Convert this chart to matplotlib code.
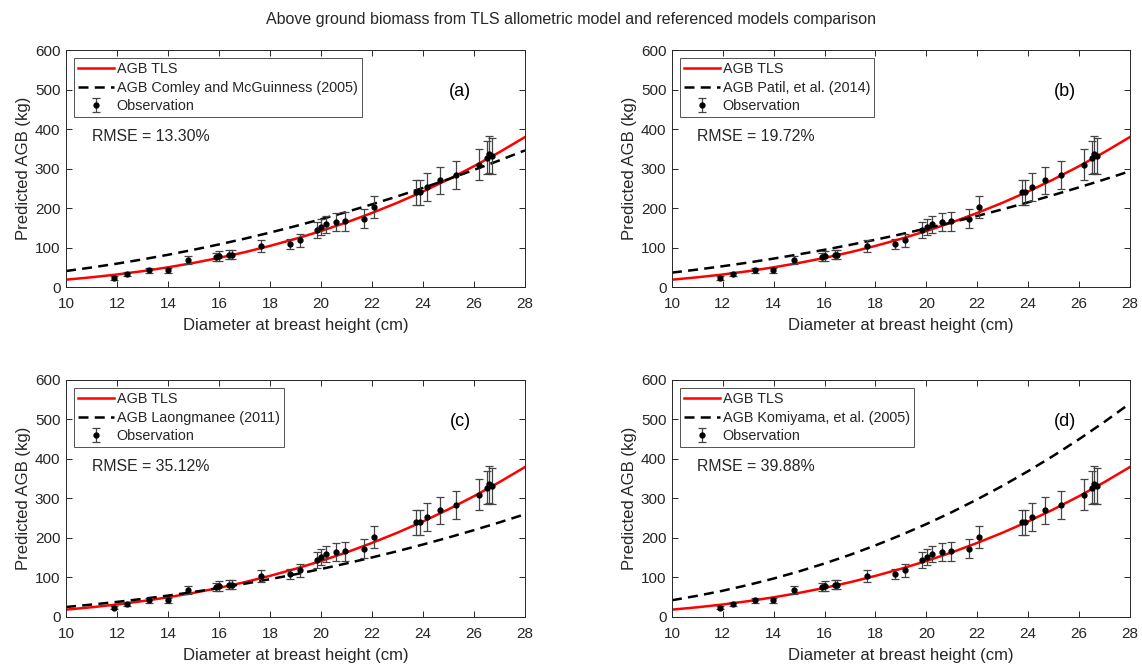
import matplotlib.pyplot as plt

plt.rcParams['font.family'] = ['Liberation Sans', 'DejaVu Sans']

# diameter grid for the model curves (cm)
d_curve = [10, 11, 12, 13, 14, 15, 16, 17, 18, 19, 20, 21, 22, 23, 24, 25, 26, 27, 28]

# TLS allometric model (same in every panel)
agb_tls = [18.6, 24.6, 31.7, 40.1, 49.9, 61.0, 73.7, 88.0, 104.1, 122.0, 141.7,
           163.5, 187.5, 213.5, 241.8, 272.6, 305.8, 341.5, 379.6]

# referenced models
agb_comley = [40.5, 49.4, 59.2, 69.9, 81.6, 94.3, 107.8, 122.3, 137.8, 154.2, 171.6,
              190.0, 209.3, 229.6, 250.9, 273.1, 296.4, 320.6, 345.9]
agb_patil = [36.4, 44.2, 52.7, 61.9, 72.0, 82.8, 94.3, 106.7, 119.8, 133.6, 148.3,
             163.6, 179.9, 196.8, 214.5, 233.0, 252.3, 272.3, 293.1]
agb_laong = [25.3, 31.4, 38.2, 45.8, 54.2, 63.3, 73.3, 84.1, 95.7, 108.1, 121.4,
             135.6, 150.7, 166.6, 183.5, 201.2, 219.9, 239.5, 260.1]
agb_komi = [42.4, 53.7, 66.5, 81.1, 97.4, 115.5, 135.5, 157.4, 181.3, 207.3, 235.2,
            265.4, 297.8, 332.3, 369.2, 408.4, 450.0, 494.0, 540.5]

# observations
dbh_obs = [11.87, 12.40, 13.25, 13.99, 14.78, 15.89, 16.00, 16.39, 16.50, 17.66,
           18.77, 19.16, 19.83, 20.01, 20.21, 20.60, 20.96, 21.68, 22.07, 23.74,
           23.87, 24.14, 24.66, 25.29, 26.19, 26.52, 26.60, 26.72]
agb_obs = [24, 34, 42, 42, 69, 76, 79, 82, 82, 104, 108, 118, 145, 152, 159, 165,
           166, 173, 202, 240, 240, 253, 270, 283, 310, 327, 336, 331]
err_obs = [5, 5, 6, 7, 10, 11, 12, 11, 11, 15, 13, 17, 20, 20, 21, 22, 25, 24, 28,
           32, 32, 35, 35, 35, 40, 42, 47, 45]

ref_models = [agb_comley, agb_patil, agb_laong, agb_komi]
ref_names = ['AGB Comley and McGuinness (2005)', 'AGB Patil, et al. (2014)',
             'AGB Laongmanee (2011)', 'AGB Komiyama, et al. (2005)']
rmse_txt = ['RMSE = 13.30%', 'RMSE = 19.72%', 'RMSE = 35.12%', 'RMSE = 39.88%']
letters = ['(a)', '(b)', '(c)', '(d)']

txt = '#262626'
fig = plt.figure(figsize=(11.42, 6.65), dpi=100)
boxes = [[0.0578, 0.5684, 0.4019, 0.3564], [0.5884, 0.5684, 0.4010, 0.3564],
         [0.0578, 0.0722, 0.4019, 0.3564], [0.5884, 0.0722, 0.4010, 0.3564]]

for i in range(4):
    ax = fig.add_axes(boxes[i])
    ax.plot(d_curve, agb_tls, color='red', lw=1.8, label='AGB TLS')
    ax.plot(d_curve, ref_models[i], color='black', lw=1.8, ls=(0, (4, 2.5)),
            label=ref_names[i])
    ax.errorbar(dbh_obs, agb_obs, yerr=err_obs, fmt='o', color='black', ms=3.5,
                ecolor='#444444', elinewidth=0.9, capsize=3, capthick=0.9,
                label='Observation')
    ax.set_xlim(10, 28)
    ax.set_ylim(0, 600)
    ax.set_xticks(range(10, 29, 2))
    ax.set_yticks(range(0, 601, 100))
    ax.tick_params(direction='in', top=True, right=True, length=4, width=0.7,
                   labelsize=11, colors=txt)
    ax.tick_params(axis='x', pad=7)
    ax.tick_params(axis='y', pad=4)
    for s in ax.spines.values():
        s.set_color(txt)
        s.set_linewidth(0.7)
    ax.set_xlabel('Diameter at breast height (cm)', fontsize=12, color=txt, labelpad=5)
    ax.set_ylabel('Predicted AGB (kg)', fontsize=12, color=txt, labelpad=3)
    leg = ax.legend(loc='upper left', fontsize=10.4, frameon=True, fancybox=False,
                    borderaxespad=0.55, handlelength=2.5, labelspacing=0.3,
                    borderpad=0.3, handletextpad=0.15)
    leg.get_frame().set_edgecolor(txt)
    leg.get_frame().set_linewidth(0.7)
    for t in leg.get_texts():
        t.set_color(txt)
    ax.text(11.0, 380, rmse_txt[i], fontsize=11.4, color=txt, va='center')
    ax.text(25.45, 494, letters[i], fontsize=13, color='black', ha='center', va='center')

fig.text(0.5, 0.971, 'Above ground biomass from TLS allometric model and referenced models comparison',
         ha='center', va='center', fontsize=11.5, color=txt)

plt.savefig('out.png', dpi=100)
